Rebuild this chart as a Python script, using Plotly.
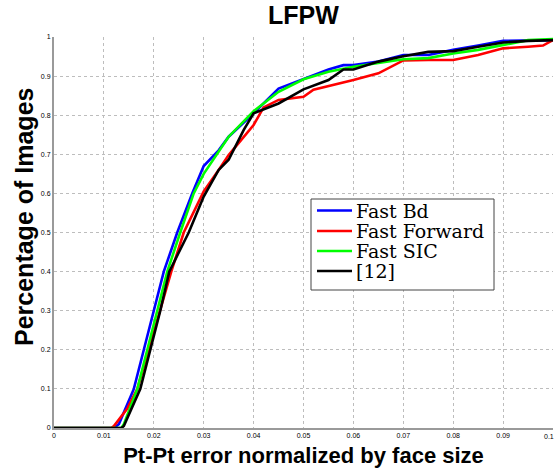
import plotly.graph_objects as go

# ---- data ----
blue_x = [0, 0.012, 0.013, 0.016, 0.018, 0.020, 0.022, 0.0247, 0.0277, 0.030, 0.033, 0.035, 0.040, 0.045,
          0.050, 0.055, 0.058, 0.060, 0.065, 0.068, 0.070, 0.075, 0.080, 0.085, 0.090, 0.100]
blue_y = [0, 0, 0.01, 0.1, 0.2, 0.3, 0.4, 0.5, 0.6, 0.67, 0.71, 0.745, 0.805, 0.868,
          0.892, 0.917, 0.928, 0.928, 0.937, 0.948, 0.954, 0.954, 0.967, 0.978, 0.99, 0.992]

red_x = [0, 0.0115, 0.012, 0.0147, 0.0167, 0.019, 0.0213, 0.0235, 0.026, 0.030, 0.033, 0.035, 0.040, 0.042,
         0.045, 0.050, 0.052, 0.056, 0.060, 0.065, 0.070, 0.075, 0.080, 0.085, 0.090, 0.095, 0.098, 0.100]
red_y = [0, 0, 0.005, 0.05, 0.1, 0.2, 0.3, 0.4, 0.5, 0.605, 0.66, 0.698, 0.775, 0.82,
         0.839, 0.847, 0.865, 0.877, 0.89, 0.907, 0.94, 0.941, 0.941, 0.954, 0.971, 0.975, 0.978, 0.992]

green_x = [0, 0.0135, 0.014, 0.0167, 0.0187, 0.0207, 0.0227, 0.0253, 0.028, 0.030, 0.035, 0.040, 0.045,
           0.050, 0.055, 0.060, 0.065, 0.070, 0.075, 0.080, 0.085, 0.090, 0.095, 0.100]
green_y = [0, 0, 0.01, 0.1, 0.2, 0.3, 0.4, 0.5, 0.6, 0.65, 0.745, 0.81, 0.86,
           0.892, 0.911, 0.924, 0.933, 0.943, 0.946, 0.958, 0.967, 0.98, 0.992, 0.995]

black_x = [0, 0.0135, 0.014, 0.0173, 0.0193, 0.0213, 0.0231, 0.027, 0.030, 0.033, 0.035, 0.038, 0.040,
           0.045, 0.050, 0.055, 0.058, 0.060, 0.065, 0.070, 0.075, 0.080, 0.085, 0.090, 0.095, 0.100]
black_y = [0, 0, 0.005, 0.1, 0.2, 0.3, 0.4, 0.5, 0.592, 0.66, 0.686, 0.762, 0.805,
           0.83, 0.866, 0.89, 0.917, 0.917, 0.937, 0.951, 0.962, 0.964, 0.975, 0.986, 0.99, 0.992]

series_names = ["Fast Bd", "Fast Forward", "Fast SIC", "[12]"]
series_colors = ["#0000ff", "#ff0000", "#00ff00", "#000000"]

x_ticks = [0, 0.01, 0.02, 0.03, 0.04, 0.05, 0.06, 0.07, 0.08, 0.09, 0.1]
x_tick_labels = ["0", "0.01", "0.02", "0.03", "0.04", "0.05", "0.06", "0.07", "0.08", "0.09", "0.1"]
y_ticks = [0, 0.1, 0.2, 0.3, 0.4, 0.5, 0.6, 0.7, 0.8, 0.9, 1]
y_tick_labels = ["0", "0.1", "0.2", "0.3", "0.4", "0.5", "0.6", "0.7", "0.8", "0.9", "1"]

W, H = 556, 473
ML, MR, MT, MB = 54, 3, 37, 45
PW, PH = W - ML - MR, H - MT - MB


def px_to_paper(px, py):
    return (px - ML) / PW, (H - MB - py) / PH


fig = go.Figure()
for xs, ys, name, color in zip([blue_x, red_x, green_x, black_x],
                               [blue_y, red_y, green_y, black_y],
                               series_names, series_colors):
    fig.add_trace(go.Scatter(x=xs, y=ys, mode="lines", name=name, showlegend=False,
                             line=dict(color=color, width=2.6)))

tick_font = dict(family="Liberation Sans", size=7, color="#000")
axis_common = dict(showgrid=True, gridcolor="#bdbdbd", griddash="dot", gridwidth=1,
                   zeroline=False, ticks="", automargin=False, tickfont=tick_font,
                   showline=True, linecolor="#9a9a9a", linewidth=2, mirror=False)

shapes = []
annotations = []

# ---- custom legend (box, line samples, labels) ----
bx0, by0 = px_to_paper(311, 290)
bx1, by1 = px_to_paper(494, 199)
shapes.append(dict(type="rect", xref="paper", yref="paper", x0=bx0, y0=by0, x1=bx1, y1=by1,
                   line=dict(color="#444", width=1), fillcolor="white", layer="above"))
legend_rows_py = [210.5, 231, 251, 271]
for name, color, py in zip(series_names, series_colors, legend_rows_py):
    lx0, ly = px_to_paper(317, py)
    lx1, _ = px_to_paper(352, py)
    shapes.append(dict(type="line", xref="paper", yref="paper", x0=lx0, x1=lx1, y0=ly, y1=ly,
                       line=dict(color=color, width=2.6), layer="above"))
    tx, ty = px_to_paper(354, py)
    annotations.append(dict(text=name, xref="paper", yref="paper", x=tx, y=ty,
                            xanchor="left", yanchor="middle", showarrow=False,
                            font=dict(family="DejaVu Serif", size=19, color="#000")))

# last x tick label (at the very edge of the picture)
annotations.append(dict(text=x_tick_labels[-1], x=x_ticks[-1], xref="x", y=0, yref="y",
                        xanchor="right", yanchor="top", xshift=3, yshift=-3, showarrow=False,
                        font=tick_font))

# y-axis title as annotation for exact placement
ytx, yty = px_to_paper(24, 217)
annotations.append(dict(text="<b>Percentage of Images</b>", xref="paper", yref="paper",
                        x=ytx, y=yty, xanchor="center", yanchor="middle", textangle=-90,
                        showarrow=False, font=dict(family="Liberation Sans", size=25, color="#000")))

fig.update_layout(
    width=W, height=H,
    margin=dict(l=ML, r=MR, t=MT, b=MB),
    paper_bgcolor="white", plot_bgcolor="white",
    title=dict(text="<b>LFPW</b>", x=(ML + PW / 2) / W, xanchor="center", y=1 - 15 / H, yanchor="middle",
               yref="container", font=dict(family="Liberation Sans", size=25, color="#000")),
    xaxis=dict(range=[0, 0.1], tickvals=x_ticks, ticktext=x_tick_labels,
               title=dict(text="<b>Pt-Pt error normalized by face size</b>", standoff=9,
                          font=dict(family="Liberation Sans", size=22, color="#000")),
               **axis_common),
    yaxis=dict(range=[0, 1], tickvals=y_ticks, ticktext=y_tick_labels, **axis_common),
    shapes=shapes,
    annotations=annotations,
    showlegend=False,
)

fig.write_html("out.html", config={"displayModeBar": False},
               post_script="document.body.style.margin='0';document.body.style.padding='0';")
